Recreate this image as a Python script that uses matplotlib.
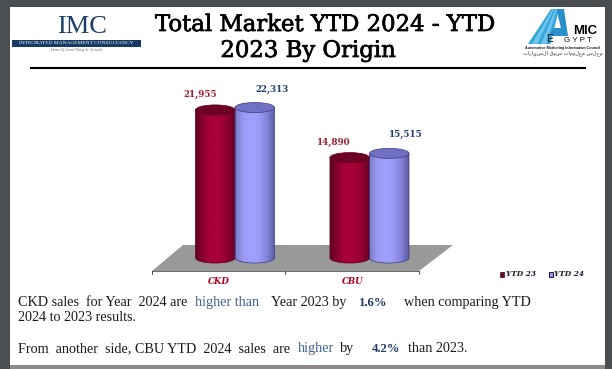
import numpy as np
import matplotlib
matplotlib.use('Agg')
import matplotlib.pyplot as plt
import matplotlib.patheffects as pe
from matplotlib.patches import Ellipse, Polygon, Rectangle, PathPatch
from matplotlib.path import Path
from matplotlib.colors import LinearSegmentedColormap

categories = ['CKD', 'CBU']
series_names = ['YTD 23', 'YTD 24']
ytd23 = [21955, 14890]
ytd24 = [22313, 15515]
value_labels23 = ['21,955', '14,890']
value_labels24 = ['22,313', '15,515']

W, H = 612, 369
SERIF = 'Liberation Serif'
NAVY = '#1f3a6b'

fig = plt.figure(figsize=(W / 100, H / 100), dpi=100, facecolor='#4b4e51')

# page in pixel coordinates
page = fig.add_axes([0, 0, 1, 1])
page.set_xlim(0, W)
page.set_ylim(H, 0)
page.axis('off')
page.add_patch(Rectangle((10, 7), 594.5, 358, fc='white', ec='none'))
page.add_patch(Rectangle((10, 365), 594.5, 4, fc='#8f8a85', ec='none'))

# title
heavy = [pe.withStroke(linewidth=0.5, foreground='black')]
page.text(325, 25, 'Total Market YTD 2024 - YTD', family='DejaVu Serif', fontsize=16.4,
          ha='center', va='center', color='black', path_effects=heavy)
page.text(308, 51, '2023 By Origin', family='DejaVu Serif', fontsize=16.4,
          ha='center', va='center', color='black', path_effects=heavy)
page.plot([31, 585], [68, 68], color='black', lw=1.5)

# IMC logo
page.text(82, 27, 'IMC', family=SERIF, fontsize=19, ha='center', va='center', color='#1c3f66')
page.add_patch(Rectangle((12, 40), 129, 7, fc='#173a66', ec='none'))
page.text(76, 43.5, 'INTEGRATED MANAGEMENT CONSULTANCY', family=SERIF, fontsize=3.9,
          ha='center', va='center', color='white')
page.text(76, 49.5, 'Home Of Good Thing At Arrivals', family=SERIF, fontsize=2.8, style='italic',
          ha='center', va='center', color='#667')

# AMIC logo
for i, c in enumerate(['#35a5dc', '#6cc4ec', '#35a5dc', '#6cc4ec', '#35a5dc']):
    page.add_patch(Polygon([(528 + i * 4.5, 44), (532.5 + i * 4.5, 44), (553 + i * 1.5, 9), (551 + i * 1.5, 9)],
                           fc=c, ec='none'))
page.add_patch(Polygon([(557, 9), (564, 9), (568, 36), (549, 36), (553, 28), (561, 28), (558, 16)],
                       fc='#2b8fcc', ec='none'))
page.text(585, 31, 'MIC', family='Liberation Sans', weight='bold', fontsize=9.5,
          ha='center', va='center', color='black')
page.text(550, 39.5, 'E', family='Liberation Sans', fontsize=7.5,
          ha='center', va='center', color='#111')
page.text(578, 40, 'G Y P T', family='Liberation Sans', fontsize=5.8,
          ha='center', va='center', color='#111')
page.text(563, 48, 'Automotive Marketing Information Council', family='Liberation Sans',
          weight='bold', fontsize=2.7, ha='center', va='center', color='#222')
page.text(563, 53, 'مجلس معلومات سوق السيارات'[::-1], family='DejaVu Sans', fontsize=3.6,
          ha='center', va='center', color='#333')

# floor
page.add_patch(Polygon([(152, 271), (419, 271), (453, 245), (183, 245)], fc='#999999', ec='none'))
page.plot([152, 419], [271, 271], color='#555555', lw=0.6)
for tx in [152, 285, 419]:
    page.plot([tx, tx], [271, 273.5], color='#333333', lw=0.6)

# chart axes, baseline at y=258 and 0.00674 px per unit
ax = fig.add_axes([150 / W, 1 - 272 / H, 300 / W, 192 / H])
ax.axis('off')
ax.patch.set_alpha(0)
x_lim = (-0.632, 1.599)
y_lim = (-2077, 26400)

bar_w = 0.294
ell_h = 750
red_cm = LinearSegmentedColormap.from_list('r', ['#5e0024', '#8e0030', '#a80038', '#a80038', '#900030', '#6a0026'])
blue_cm = LinearSegmentedColormap.from_list('b', ['#7878cc', '#9a9af2', '#a0a0ff', '#9c9cf8', '#8585dc', '#5c5ca8'])
grad = np.linspace(0, 1, 64).reshape(1, -1)


def cylinder(x, val, cmap, top_color, edge):
    x0, x1 = x - bar_w / 2, x + bar_w / 2
    k = 0.5523
    verts = [(x0, 0), (x0, val), (x1, val), (x1, 0),
             (x1, -ell_h * k), (x + bar_w / 2 * k, -ell_h), (x, -ell_h),
             (x - bar_w / 2 * k, -ell_h), (x0, -ell_h * k), (x0, 0)]
    codes = [Path.MOVETO, Path.LINETO, Path.LINETO, Path.LINETO,
             Path.CURVE4, Path.CURVE4, Path.CURVE4, Path.CURVE4, Path.CURVE4, Path.CURVE4]
    outline = PathPatch(Path(verts, codes), fc='none', ec=edge, lw=0.5, clip_on=False, zorder=3)
    ax.add_patch(outline)
    im = ax.imshow(grad, cmap=cmap, extent=(x0, x1, -ell_h, val), aspect='auto', zorder=2)
    im.set_clip_path(outline)
    ax.add_patch(Ellipse((x, val), bar_w, ell_h * 2, fc=top_color, ec=edge, lw=0.5, clip_on=False, zorder=4))


for i in range(len(categories)):
    cylinder(i - bar_w / 2, ytd23[i], red_cm, '#6e0024', '#5e0020')
    cylinder(i + bar_w / 2, ytd24[i], blue_cm, '#7070c4', '#3c3c80')
    ax.text(i - bar_w / 2 - 0.115, ytd23[i] + 2300, value_labels23[i], family='DejaVu Serif', fontsize=6.3,
            weight='bold', color='#a01c30', ha='center', va='center')
    ax.text(i + bar_w / 2 + 0.125, ytd24[i] + 2750, value_labels24[i], family='DejaVu Serif', fontsize=6.3,
            weight='bold', color='#1f3f6f', ha='center', va='center')
ax.set_xlim(*x_lim)
ax.set_ylim(*y_lim)

# category labels and legend
for name, tx in zip(categories, [219, 353]):
    page.text(tx, 281, name, family='DejaVu Serif', fontsize=6.2, weight='bold', style='italic',
              color='#b00020', ha='center', va='center')
page.add_patch(Rectangle((499.5, 272), 4, 4.5, fc='#6e0024', ec='#301020', lw=0.5))
page.text(505.5, 274, series_names[0], family='DejaVu Serif', fontsize=5.3, weight='bold', style='italic',
          color='#1a1a30', va='center')
page.add_patch(Rectangle((548.5, 272), 4, 4.5, fc='#9a9af2', ec='#202050', lw=0.8))
page.text(554.5, 274, series_names[1], family='DejaVu Serif', fontsize=5.3, weight='bold', style='italic',
          color='#1a1a30', va='center')

# commentary, pieces placed one by one because of the colours
TXT = '#1a1a1a'
BLUE = '#3f6390'
pieces = [
    (18, 302.5, 'CKD sales  for Year  2024 are', TXT, 'normal', 10.2),
    (195, 302.5, 'higher than', BLUE, 'normal', 10.2),
    (271, 302.5, 'Year 2023 by', TXT, 'normal', 10.2),
    (359, 302.5, '1.6%', NAVY, 'bold', 9.2),
    (404, 302.5, 'when comparing YTD', TXT, 'normal', 10.2),
    (18, 317.5, '2024 to 2023 results.', TXT, 'normal', 10.2),
    (18, 348.5, 'From  another  side, CBU YTD  2024  sales  are', TXT, 'normal', 10.2),
    (298, 348.5, 'higher', BLUE, 'normal', 10.2),
    (340, 348.5, 'by', TXT, 'normal', 10.2),
    (372, 348.5, '4.2%', NAVY, 'bold', 9.2),
    (408, 348.5, 'than 2023.', TXT, 'normal', 10.2),
]
for tx, ty, s, c, w, fs in pieces:
    page.text(tx, ty, s, family=SERIF, fontsize=fs, color=c, weight=w, va='center')

fig.savefig('out.png', dpi=100, facecolor=fig.get_facecolor())
